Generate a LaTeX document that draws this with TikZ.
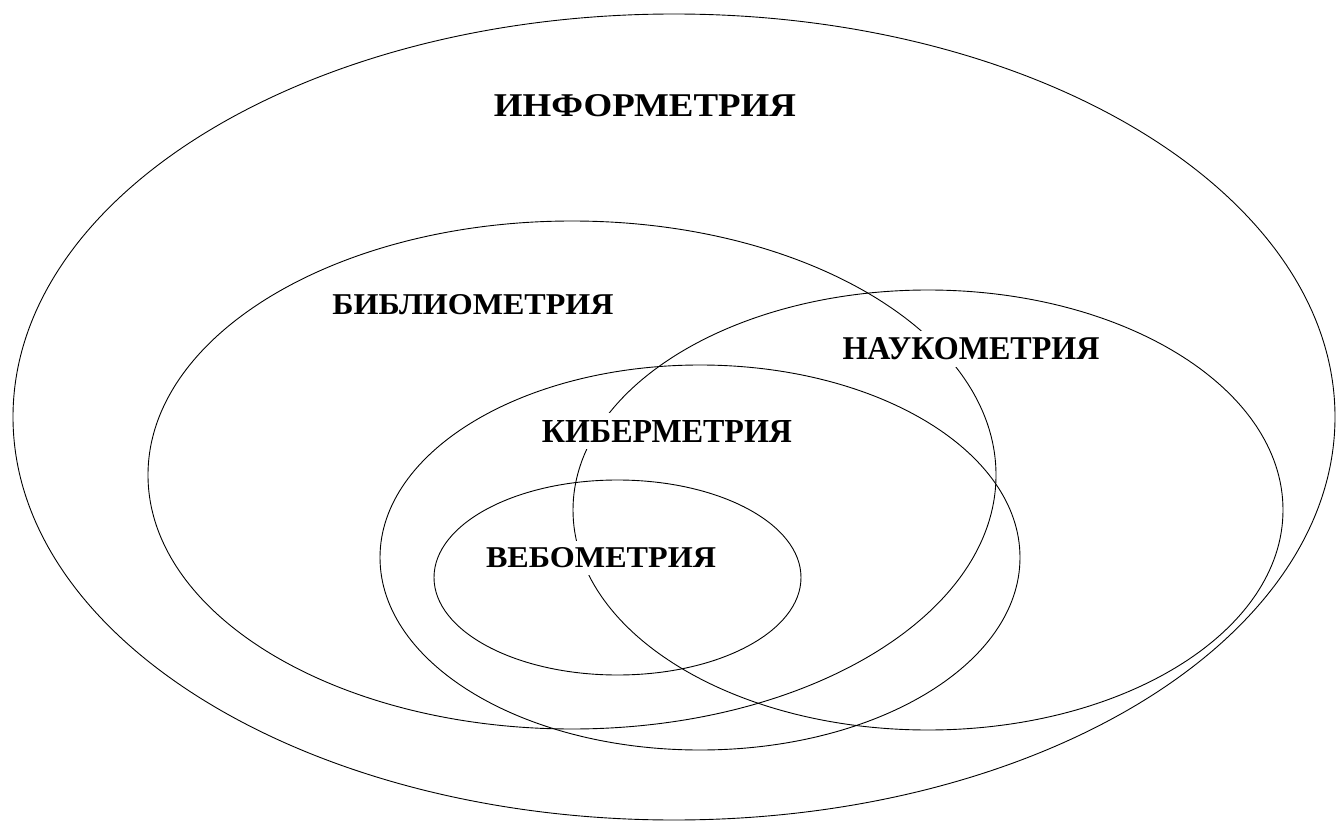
\documentclass[tikz,border=0pt]{standalone}
\usepackage{fontspec}
\setmainfont{Liberation Serif}
\usetikzlibrary{shapes.geometric}
\begin{document}
\begin{tikzpicture}[x=1pt,y=-1pt,
  ring/.style={draw=black,line width=0.9pt,ellipse,inner sep=0pt},
  lbl/.style={fill=white,inner xsep=3pt,inner ysep=7pt}]
\useasboundingbox (0,0) rectangle (1336,826);
\fill[white] (0,0) rectangle (1336,826);
% ellipses
\node[ring,minimum width=1322pt,minimum height=806pt] (info)   at (674,417) {};
\node[ring,minimum width=848pt, minimum height=508pt] (biblio) at (572,475) {};
\node[ring,minimum width=710pt, minimum height=440pt] (nauk)   at (928,510) {};
\node[ring,minimum width=640pt, minimum height=385pt] (kiber)  at (700,557.5) {};
\node[ring,minimum width=367pt, minimum height=195pt] (vebo)   at (617.5,577.5) {};
% labels
\node[lbl] (tinfo)   at (645,106) {\resizebox{302pt}{22pt}{\bfseries ИНФОРМЕТРИЯ}};
\node[lbl] (tbiblio) at (473,305) {\resizebox{281pt}{20pt}{\bfseries БИБЛИОМЕТРИЯ}};
\node[lbl] (tnauk)   at (971,349) {\resizebox{257pt}{22pt}{\bfseries НАУКОМЕТРИЯ}};
\node[lbl] (tkiber)  at (667,431) {\resizebox{250pt}{22pt}{\bfseries КИБЕРМЕТРИЯ}};
\node[lbl] (tvebo)   at (601,558) {\resizebox{230pt}{20pt}{\bfseries ВЕБОМЕТРИЯ}};
\end{tikzpicture}
\end{document}
